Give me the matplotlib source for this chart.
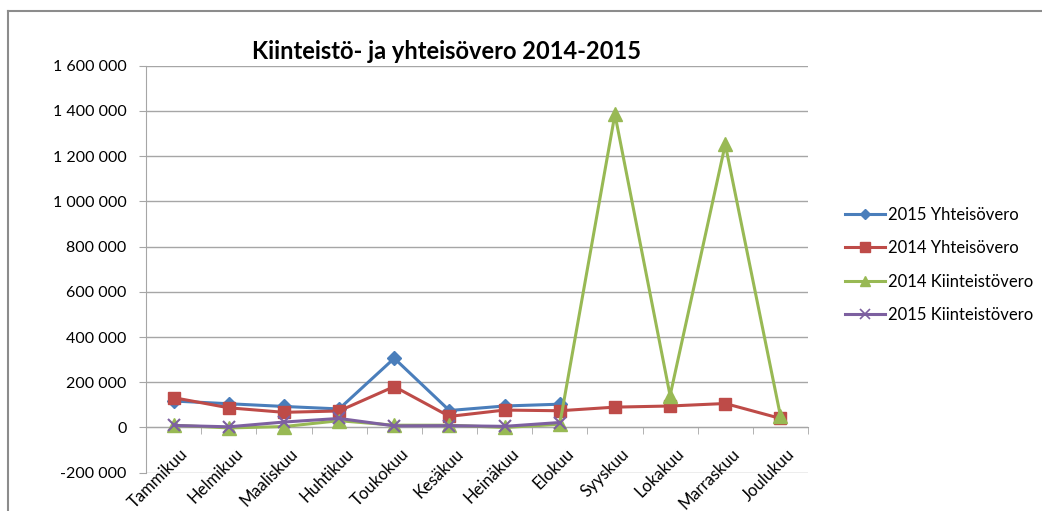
import matplotlib
matplotlib.use("Agg")
import matplotlib.pyplot as plt
from matplotlib.lines import Line2D
from matplotlib.ticker import FuncFormatter, FixedLocator
from matplotlib.transforms import ScaledTranslation
import numpy as np

months = ["Tammikuu", "Helmikuu", "Maaliskuu", "Huhtikuu", "Toukokuu", "Kesäkuu",
          "Heinäkuu", "Elokuu", "Syyskuu", "Lokakuu", "Marraskuu", "Joulukuu"]

yhteis_2015 = [117000, 105000, 93000, 82000, 306000, 75000, 95000, 103000]
yhteis_2014 = [132000, 87000, 67000, 73000, 181000, 49000, 77000, 74000, 90000, 95000, 106000, 40000]
kiint_2014 = [10000, -2000, 4000, 30000, 10000, 10000, 0, 14000, 1385000, 141000, 1252000, 52000]
kiint_2015 = [9000, 3000, 24000, 40000, 7000, 8000, 5000, 22000]

series_names = ["2015 Yhteisövero", "2014 Yhteisövero", "2014 Kiinteistövero", "2015 Kiinteistövero"]
colors = ["#4A7EBB", "#BE4B48", "#98B954", "#7D60A0"]

plt.rcParams['font.family'] = ['Lato', 'DejaVu Sans']

fig = plt.figure(figsize=(10.42, 5.11), dpi=100)
ax = fig.add_axes([146/1042, 1-472.7/511, (808-146)/1042, (472.7-65.7)/511])

x = np.arange(len(months))
lw = 2.2
ax.plot(x[:len(yhteis_2015)], yhteis_2015, color=colors[0], lw=lw, marker="D", ms=7.5,
        label=series_names[0], zorder=3)
ax.plot(x, yhteis_2014, color=colors[1], lw=lw, marker="s", ms=8.5,
        label=series_names[1], zorder=3)
ax.plot(x, kiint_2014, color=colors[2], lw=lw, marker="^", ms=10,
        label=series_names[2], zorder=3)
ax.plot(x[:len(kiint_2015)], kiint_2015, color=colors[3], lw=lw, marker="x", ms=9,
        mew=1.5, label=series_names[3], zorder=4)

ax.set_xlim(-0.5, len(months) - 0.5)
ax.set_ylim(-200000, 1600000)
ax.set_yticks(np.arange(-200000, 1600001, 200000))
ax.yaxis.set_major_formatter(FuncFormatter(lambda v, p: f"{int(v):,}".replace(",", " ")))
ax.grid(axis="y", color="#A6A6A6", lw=1.0, zorder=0)
ax.set_axisbelow(True)

for s in ["top", "right"]:
    ax.spines[s].set_visible(False)
ax.spines["left"].set_color("#A6A6A6")
ax.spines["bottom"].set_color("#A6A6A6")
ax.spines["bottom"].set_position(("data", 0))

ax.set_xticks(x)
ax.set_xticklabels(months, rotation=45, ha="right", rotation_mode="anchor", fontsize=12)
ax.tick_params(axis="x", which="major", length=0, pad=13)
off = ScaledTranslation(6/100, 0, fig.dpi_scale_trans)
for lab in ax.get_xticklabels():
    lab.set_transform(lab.get_transform() + off)
ax.xaxis.set_minor_locator(FixedLocator(np.arange(-0.5, len(months), 1.0)))
ax.tick_params(axis="x", which="minor", length=5, color="#A6A6A6", direction="out")
ax.tick_params(axis="y", length=5, color="#A6A6A6", labelsize=11.5, pad=9)

fig.text(447/1042, 1-51/511, "Kiinteistö- ja yhteisövero 2014-2015", ha="center", va="center",
         fontsize=17, fontweight="bold")

handles = [
    Line2D([], [], color=colors[0], lw=lw, marker="D", ms=5.5),
    Line2D([], [], color=colors[1], lw=lw, marker="s", ms=6.5),
    Line2D([], [], color=colors[2], lw=lw, marker="^", ms=7.5),
    Line2D([], [], color=colors[3], lw=lw, marker="x", ms=7.5, mew=1.2),
]
fig.legend(handles, series_names, loc="center left", bbox_to_anchor=(830/1042, 1-265/511),
           frameon=False, fontsize=12, handlelength=2.4, handletextpad=0.15, labelspacing=1.05)

# chart area border
fig.add_artist(Line2D([8/1042, 8/1042], [0, 1-11/511], transform=fig.transFigure, color="#8C8C8C", lw=1.5))
fig.add_artist(Line2D([8/1042, 1], [1-11/511, 1-11/511], transform=fig.transFigure, color="#8C8C8C", lw=1.5))

fig.savefig("out.png", dpi=100)
